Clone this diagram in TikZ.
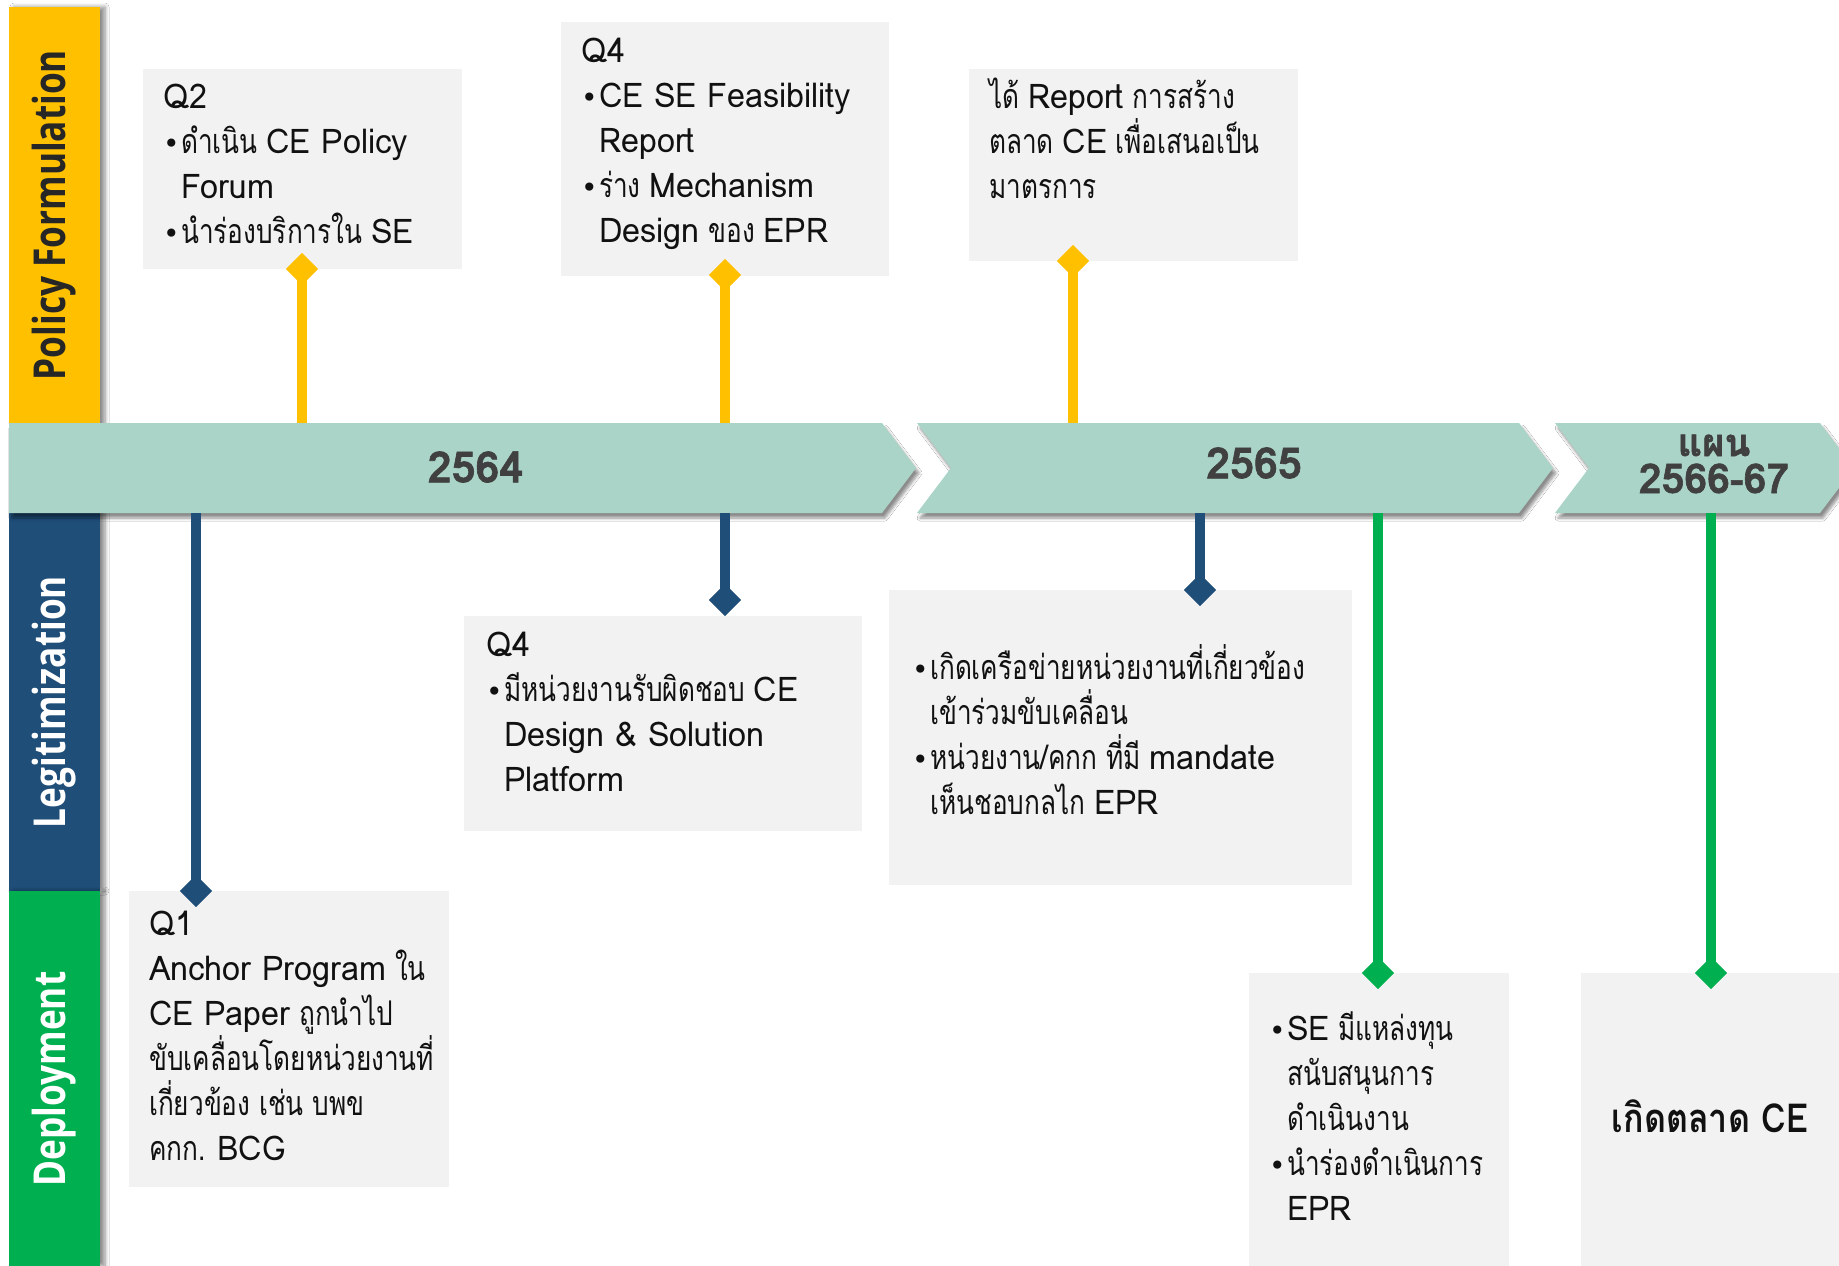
\documentclass[tikz,border=0pt]{standalone}
\usepackage{fontspec}
\usetikzlibrary{shapes.geometric,shadows.blur}
\newfontfamily\thf[Script=Thai,FakeStretch=0.77]{Loma}
\newfontfamily\laf[Script=Thai,FakeStretch=0.95]{Loma}
\newfontfamily\thbf[Script=Thai,FakeStretch=0.85]{Loma}
\newfontfamily\yrf[Script=Thai,FakeStretch=1.0,FakeBold=1.5]{Loma}
\newfontfamily\lanef[FakeStretch=0.8]{Open Sans}
\newfontfamily\symf{DejaVu Sans}
\definecolor{yellowc}{HTML}{FFC000}
\definecolor{bluec}{HTML}{1F4E79}
\definecolor{greenc}{HTML}{00B050}
\definecolor{tealc}{HTML}{AAD4C7}
\definecolor{boxc}{HTML}{F2F2F2}
\definecolor{yeartxt}{HTML}{404040}
\definecolor{bodytxt}{HTML}{111111}
\newcommand{\bt}{\makebox[18pt][l]{{\symf\fontsize{28}{28}\selectfont •}}}
\newcommand{\ind}{\hspace*{18pt}}
\newcommand{\fl}{\rule{0pt}{40pt}}
\newcommand{\la}[1]{{\laf #1}}
\tikzset{
  box/.style={rectangle, fill=boxc, draw=none, inner sep=0pt, anchor=north west},
  txt/.style={inner sep=0pt, anchor=north west, align=left, text=bodytxt,
    font=\thf\fontsize{34}{45}\selectfont},
  dmd/.style={diamond, inner sep=0pt, minimum size=32pt},
  conn/.style={line width=10.5pt},
  yeartext/.style={text=yeartxt, font=\yrf\bfseries\fontsize{43}{38}\selectfont, align=center},
  lanetext/.style={rotate=90, font=\lanef\bfseries\fontsize{44}{44}\selectfont},
  bandshadow/.style={blur shadow={shadow xshift=5pt, shadow yshift=0pt, shadow blur radius=4pt, shadow blur steps=6, shadow opacity=45}},
  barshadow/.style={blur shadow={shadow xshift=3pt, shadow yshift=-5pt, shadow blur radius=3pt, shadow blur steps=6, shadow opacity=45}}
}
\begin{document}
\begin{tikzpicture}[x=1pt,y=-1pt]
\useasboundingbox (0,0) rectangle (1839,1266);
\fill[white] (0,0) rectangle (1839,1266);

% lane bands
\fill[yellowc, bandshadow] (9,7) rectangle (100,430);
\fill[bluec, bandshadow] (9,505) rectangle (100,891);
\fill[greenc, bandshadow] (9,891) rectangle (100,1266);
\node[lanetext, text=black!85] (lpf) at (54,215) {Policy Formulation};
\node[lanetext, text=white] (llg) at (54,702) {Legitimization};
\node[lanetext, text=white] (ldp) at (54,1079) {Deployment};

% timeline bar
\fill[tealc, barshadow] (9,423) -- (882,423) -- (916,468) -- (882,513) -- (9,513) -- cycle;
\fill[tealc, barshadow] (917,423) -- (1519,423) -- (1553,468) -- (1519,513) -- (917,513) -- (951,468) -- cycle;
\fill[tealc, barshadow] (1555,423) -- (1820,423) -- (1854,468) -- (1820,513) -- (1555,513) -- (1589,468) -- cycle;
\node[yeartext] (y64) at (475.5,467) {2564};
\node[yeartext] (y65) at (1254,463) {2565};
\node[yeartext, anchor=base, font=\yrf\bfseries\fontsize{38}{38}\selectfont] (y66a) at (1714,456) {แผน};
\node[yeartext, anchor=base, font=\yrf\bfseries\fontsize{41}{41}\selectfont] (y66b) at (1714,493) {2566-67};

% points on the bar
\coordinate (p1) at (302,423);
\coordinate (p2) at (725,423);
\coordinate (p3) at (1073,423);
\coordinate (p4) at (196,513);
\coordinate (p5) at (725,513);
\coordinate (p6) at (1200,513);
\coordinate (p7) at (1378,513);
\coordinate (p8) at (1711,513);

% boxes
\node[box, minimum width=319pt, minimum height=200pt] (bq2) at (143,69) {};
\node[box, minimum width=328pt, minimum height=254pt] (bq4) at (561,22) {};
\node[box, minimum width=329pt, minimum height=192pt] (brp) at (969,69) {};
\node[box, minimum width=398pt, minimum height=215pt] (blq4) at (464,616) {};
\node[box, minimum width=463pt, minimum height=295pt] (bl65) at (889,590) {};
\node[box, minimum width=320pt, minimum height=296pt] (bq1) at (129,891) {};
\node[box, minimum width=260pt, minimum height=300pt] (bse) at (1249,973) {};
\node[box, minimum width=270pt, minimum height=300pt] (bmk) at (1581,973) {};

% diamonds
\node[dmd, fill=yellowc] (dq2) at (302,269) {};
\node[dmd, fill=yellowc] (dq4) at (725,275) {};
\node[dmd, fill=yellowc] (drp) at (1073,261) {};
\node[dmd, fill=bluec] (dq1) at (196,891) {};
\node[dmd, fill=bluec] (dlq4) at (725,600) {};
\node[dmd, fill=bluec] (dl65) at (1200,590) {};
\node[dmd, fill=greenc] (dse) at (1378,973) {};
\node[dmd, fill=greenc] (dmk) at (1711,973) {};

% connectors
\draw[conn, yellowc] (p1) -- (dq2.center);
\draw[conn, yellowc] (p2) -- (dq4.center);
\draw[conn, yellowc] (p3) -- (drp.center);
\draw[conn, bluec] (p4) -- (dq1.center);
\draw[conn, bluec] (p5) -- (dlq4.center);
\draw[conn, bluec] (p6) -- (dl65.center);
\draw[conn, greenc] (p7) -- (dse.center);
\draw[conn, greenc] (p8) -- (dmk.center);
% diamonds over the line ends
\node[dmd, fill=yellowc] at (dq2) {};
\node[dmd, fill=yellowc] at (dq4) {};
\node[dmd, fill=yellowc] at (drp) {};
\node[dmd, fill=bluec] at (dq1) {};
\node[dmd, fill=bluec] at (dlq4) {};
\node[dmd, fill=bluec] at (dl65) {};
\node[dmd, fill=greenc] at (dse) {};
\node[dmd, fill=greenc] at (dmk) {};

% texts
\node[txt] (tq2) at (163,68) {\fl \la{Q2}\\ \bt ดำเนิน \la{CE Policy}\\ \ind \la{Forum}\\ \bt นำร่องบริการใน \la{SE}};
\node[txt] (tq4) at (581,22) {\fl \la{Q4}\\ \bt \la{CE SE Feasibility}\\ \ind \la{Report}\\ \bt ร่าง \la{Mechanism}\\ \ind \la{Design} ของ \la{EPR}};
\node[txt] (trp) at (989,68) {\fl ได้ \la{Report} การสร้าง\\ ตลาด \la{CE} เพื่อเสนอเป็น\\ มาตรการ};
\node[txt] (tlq4) at (486,616) {\fl \la{Q4}\\ \bt มีหน่วยงานรับผิดชอบ \la{CE}\\ \ind \la{Design \& Solution}\\ \ind \la{Platform}};
\node[txt] (tl65) at (912,639) {\fl \bt เกิดเครือข่ายหน่วยงานที่เกี่ยวข้อง\\ \ind เข้าร่วมขับเคลื่อน\\ \bt หน่วยงาน/คกก ที่มี \la{mandate}\\ \ind เห็นชอบกลไก \la{EPR}};
\node[txt] (tq1) at (149,895) {\fl \la{Q1}\\ \la{Anchor Program} ใน\\ \la{CE Paper} ถูกนำไป\\ ขับเคลื่อนโดยหน่วยงานที่\\ เกี่ยวข้อง เช่น บพข\\ คกก. \la{BCG}};
\node[txt] (tse) at (1269,1000) {\fl \bt \la{SE} มีแหล่งทุน\\ \ind สนับสนุนการ\\ \ind ดำเนินงาน\\ \bt นำร่องดำเนินการ\\ \ind \la{EPR}};
\node[anchor=base, inner sep=0pt, text=bodytxt, font=\thbf\bfseries\fontsize{40}{44}\selectfont] (tmk) at (1710,1132) {เกิดตลาด CE};
\end{tikzpicture}
\end{document}
